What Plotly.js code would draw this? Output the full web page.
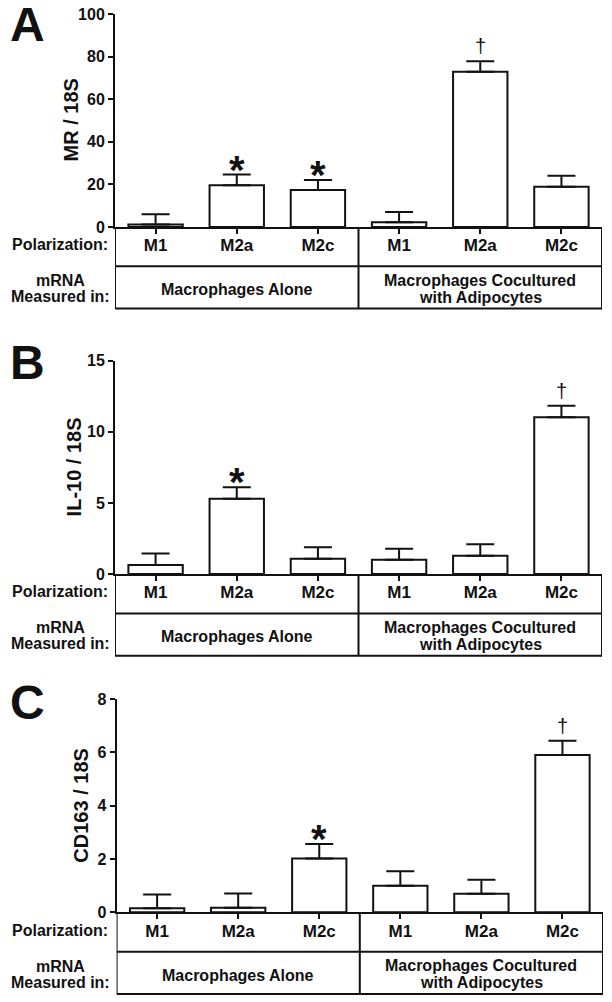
<!DOCTYPE html>
<html>
<head>
<meta charset="utf-8">
<script src="https://cdn.plot.ly/plotly-3.0.1.min.js"></script>
<style>
  body { margin: 0; padding: 0; background: #fff; }
  #myDiv { width: 612px; height: 1002px; }
</style>
</head>
<body>
<div id="myDiv"></div>
<script>
// categories
var polarization = ["M1", "M2a", "M2c", "M1", "M2a", "M2c"];
var xPos = [0, 1, 2, 3, 4, 5];
var measuredLeft = ["Macrophages Alone"];
var measuredRight = ["Macrophages Cocultured", "with Adipocytes"];

// panel A: MR / 18S
var mrMean = [1.1, 19.6, 17.4, 2.2, 72.9, 18.9];
var mrSem = [4.9, 5.0, 4.7, 4.8, 4.9, 5.2];
var mrSig = ["", "*", "*", "", "†", ""];

// panel B: IL-10 / 18S
var il10Mean = [0.63, 5.3, 1.08, 1.01, 1.29, 11.02];
var il10Sem = [0.82, 0.8, 0.8, 0.77, 0.8, 0.82];
var il10Sig = ["", "*", "", "", "", "†"];

// panel C: CD163 / 18S
var cd163Mean = [0.15, 0.17, 2.02, 1.0, 0.70, 5.9];
var cd163Sem = [0.52, 0.54, 0.54, 0.54, 0.52, 0.53];
var cd163Sig = ["", "", "*", "", "", "†"];

var noSem = [0, 0, 0, 0, 0, 0];

var FONT = "Liberation Sans, Arial, Helvetica, sans-serif";
var INK = "#111";

var panels = [{
    letter: "A", title: "MR / 18S", mean: mrMean, sem: mrSem, sig: mrSig,
    range: [0, 100], dtick: 20, ydom: [0.7735, 0.986], xdom: [0.1879, 0.9837],
    titleX: 71, letterTop: 11
}, {
    letter: "B", title: "IL-10 / 18S", mean: il10Mean, sem: il10Sem, sig: il10Sig,
    range: [0, 15], dtick: 5, ydom: [0.4271, 0.640], xdom: [0.1879, 0.9837],
    titleX: 74, letterTop: 349
}, {
    letter: "C", title: "CD163 / 18S", mean: cd163Mean, sem: cd163Sem, sig: cd163Sig,
    range: [0, 8], dtick: 2, ydom: [0.0895, 0.3024], xdom: [0.1905, 0.9853],
    titleX: 81, letterTop: 689
}];

var data = [];
var shapes = [];
var annotations = [];
var layout = {
    width: 612,
    height: 1002,
    margin: {l: 0, r: 0, t: 0, b: 0},
    paper_bgcolor: "#fff",
    plot_bgcolor: "#fff",
    showlegend: false,
    font: {family: FONT, color: INK},
};

var lineStyle = {color: INK, width: 2};

panels.forEach(function(p, k) {
    var n = k === 0 ? "" : String(k + 1);
    var xa = "x" + n, ya = "y" + n;

    data.push({
        type: "bar",
        x: xPos,
        y: p.mean,
        width: 0.67,
        xaxis: xa,
        yaxis: ya,
        marker: {color: "#fff", line: {color: INK, width: 2}},
        error_y: {
            type: "data", symmetric: false, array: p.sem, arrayminus: noSem,
            color: INK, thickness: 2, width: 14
        },
        hoverinfo: "none"
    });

    layout["xaxis" + n] = {
        domain: p.xdom,
        anchor: ya,
        range: [-0.5, 5.5],
        tickvals: xPos,
        ticktext: polarization,
        tickfont: {size: 17, weight: "bold", family: FONT, color: INK},
        ticks: "outside",
        ticklen: 5,
        tickwidth: 2,
        tickcolor: INK,
        ticklabelstandoff: -3,
        showline: true,
        linecolor: INK,
        linewidth: 2,
        showgrid: false,
        zeroline: false,
        fixedrange: true
    };
    layout["yaxis" + n] = {
        domain: p.ydom,
        anchor: xa,
        range: p.range,
        dtick: p.dtick,
        tickfont: {size: 16, weight: "bold", family: FONT, color: INK},
        ticks: "outside",
        ticklen: 5,
        tickwidth: 2,
        tickcolor: INK,
        showline: true,
        linecolor: INK,
        linewidth: 2,
        showgrid: false,
        zeroline: false,
        fixedrange: true
    };

    var yd = ya + " domain";
    var bold16 = {size: 16, weight: "bold", family: FONT, color: INK};

    // y axis title, rotated
    annotations.push({
        xref: "paper", yref: yd, x: p.titleX / 612, y: 0.5, xanchor: "center", yanchor: "middle",
        textangle: -90, text: p.title, showarrow: false,
        font: {size: 20, weight: "bold", family: FONT, color: INK}
    });

    // table under the axis
    [-0.5, 2.5, 5.5].forEach(function(xv) {
        shapes.push({type: "line", xref: xa, yref: yd, x0: xv, x1: xv, y0: 0, y1: -0.383, line: lineStyle});
    });
    [-0.185, -0.383].forEach(function(yv) {
        shapes.push({type: "line", xref: xa, yref: yd, x0: -0.5, x1: 5.5, y0: yv, y1: yv, line: lineStyle});
    });

    annotations.push({
        xref: "paper", yref: yd, x: 110 / 612, y: -0.083, xanchor: "right", yanchor: "middle",
        text: "Polarization:", showarrow: false, font: bold16
    });
    annotations.push({
        xref: "paper", yref: yd, x: 60 / 612, y: -0.29, yshift: 8, xanchor: "center", yanchor: "middle",
        text: "mRNA", showarrow: false, font: bold16
    });
    annotations.push({
        xref: "paper", yref: yd, x: 60 / 612, y: -0.29, yshift: -8, xanchor: "center", yanchor: "middle",
        text: "Measured in:", showarrow: false, font: bold16
    });
    annotations.push({
        xref: xa, yref: yd, x: 1, y: -0.295, xanchor: "center", yanchor: "middle",
        text: measuredLeft[0], showarrow: false, font: bold16
    });
    measuredRight.forEach(function(t, j) {
        annotations.push({
            xref: xa, yref: yd, x: 4, y: -0.29, yshift: j === 0 ? 8.5 : -8.5,
            xanchor: "center", yanchor: "middle",
            text: t, showarrow: false, font: bold16
        });
    });

    // significance marks
    p.sig.forEach(function(s, i) {
        if (!s) return;
        var star = s === "*";
        annotations.push({
            xref: xa, yref: ya, x: xPos[i], y: p.mean[i] + p.sem[i],
            xanchor: "center", yanchor: "bottom",
            yshift: star ? -19 : 2,
            text: s, showarrow: false,
            font: star ? {size: 40, weight: "bold", family: FONT, color: INK}
                       : {size: 20, family: FONT, color: INK}
        });
    });

    // panel letter
    annotations.push({
        xref: "paper", yref: "paper", x: 8 / 612, y: 1 - p.letterTop / 1002, yshift: 15,
        xanchor: "left", yanchor: "top",
        text: p.letter, showarrow: false,
        font: {size: 48, weight: "bold", family: FONT, color: INK}
    });
});

layout.shapes = shapes;
layout.annotations = annotations;

Plotly.newPlot("myDiv", data, layout, {displayModeBar: false, staticPlot: true});
</script>
</body>
</html>
